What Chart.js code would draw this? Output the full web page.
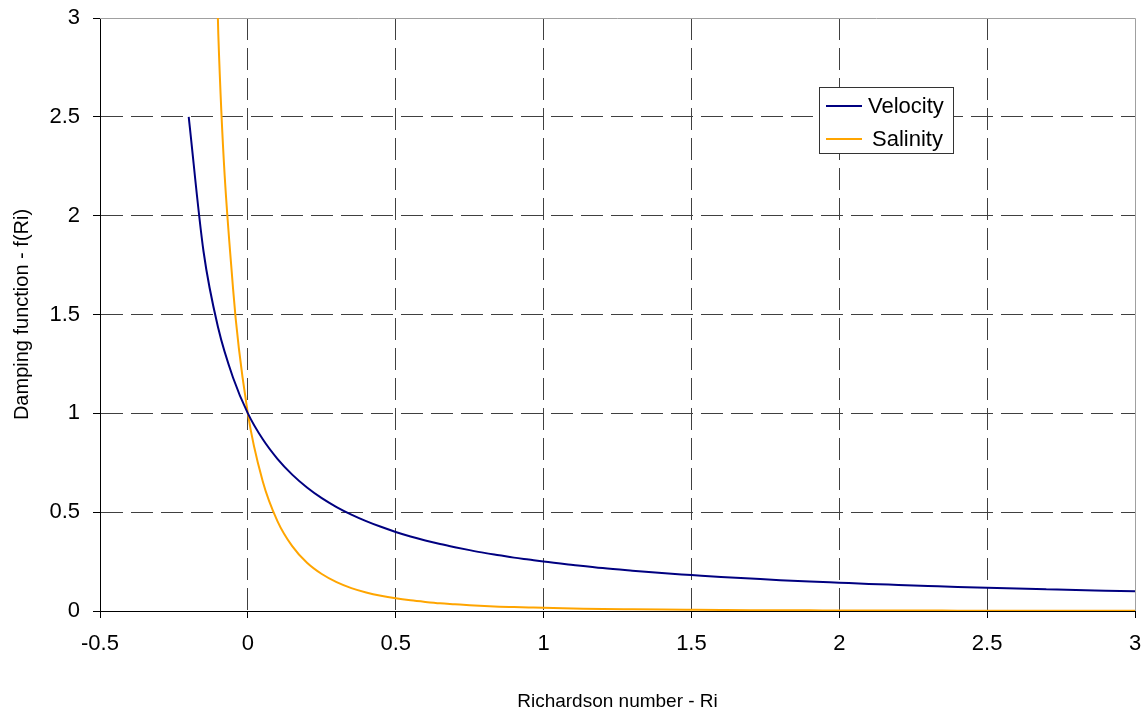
<!DOCTYPE html>
<html>
<head>
<meta charset="utf-8">
<script src="https://cdn.jsdelivr.net/npm/chart.js@4.4.0/dist/chart.umd.min.js"></script>
<style>
  html, body { margin: 0; padding: 0; background: #fff; }
  #wrap { width: 1148px; height: 715px; }
</style>
</head>
<body>
<div id="wrap"><canvas id="dampingChart" width="1148" height="715"></canvas></div>
<script>
// ===== Data =====
const riValues = [
  -0.2, -0.15, -0.1, -0.05, 0, 0.05, 0.1, 0.15, 0.2, 0.25, 0.3, 0.35, 0.4, 0.45, 0.5,
  0.55, 0.6, 0.65, 0.7, 0.75, 0.8, 0.85, 0.9, 0.95, 1.0,
  1.1, 1.2, 1.3, 1.4, 1.5, 1.6, 1.7, 1.8, 1.9, 2.0,
  2.1, 2.2, 2.3, 2.4, 2.5, 2.6, 2.7, 2.8, 2.9, 3.0
];
const velocityValues = [
  2.5, 1.82, 1.43, 1.18, 1.0, 0.87, 0.77, 0.69, 0.625, 0.571, 0.526, 0.488, 0.455, 0.426, 0.4,
  0.377, 0.357, 0.339, 0.323, 0.308, 0.294, 0.282, 0.27, 0.26, 0.25,
  0.233, 0.217, 0.204, 0.192, 0.182, 0.172, 0.164, 0.156, 0.149, 0.143,
  0.137, 0.132, 0.127, 0.122, 0.118, 0.114, 0.11, 0.106, 0.103, 0.1
];
const salinityValues = [
  null, 6.0, 2.92, 1.63, 1.0, 0.658, 0.455, 0.328, 0.244, 0.187, 0.146, 0.116, 0.094, 0.077, 0.064,
  0.054, 0.046, 0.039, 0.034, 0.029, 0.025, 0.022, 0.02, 0.018, 0.016,
  0.013, 0.01, 0.0085, 0.0071, 0.006, 0.0051, 0.0044, 0.0038, 0.0033, 0.0029,
  0.0026, 0.0023, 0.002, 0.0018, 0.0016, 0.0015, 0.0013, 0.0012, 0.0011, 0.001
];
const seriesNames = ['Velocity', 'Salinity'];
const seriesColors = ['#000080', '#ffa500'];

const FONT = "'Liberation Sans', Arial, sans-serif";

const toPoints = (ys) => riValues.map((x, i) => ({ x: x, y: ys[i] }));

// gray frame on top/right of the plot area
const framePlugin = {
  id: 'frame',
  beforeDatasetsDraw(chart) {
    const { ctx, chartArea: a } = chart;
    ctx.save();
    ctx.strokeStyle = '#a0a0a0';
    ctx.lineWidth = 1;
    ctx.beginPath();
    ctx.moveTo(a.left, a.top + 0.5);
    ctx.lineTo(a.right + 0.5, a.top + 0.5);
    ctx.lineTo(a.right + 0.5, a.bottom);
    ctx.stroke();
    ctx.restore();
  }
};

// boxed legend inside the plot, like the original
const boxLegend = {
  id: 'boxLegend',
  afterDatasetsDraw(chart) {
    const { ctx } = chart;
    const x = 819.5, y = 87.5, w = 134, h = 66;
    ctx.save();
    ctx.fillStyle = '#fff';
    ctx.strokeStyle = '#333';
    ctx.lineWidth = 1;
    ctx.fillRect(x, y, w, h);
    ctx.strokeRect(x, y, w, h);
    ctx.font = '22px ' + FONT;
    ctx.textBaseline = 'middle';
    chart.data.datasets.forEach((ds, i) => {
      const ly = 106 + i * 33;
      ctx.strokeStyle = ds.borderColor;
      ctx.lineWidth = 2;
      ctx.beginPath();
      ctx.moveTo(826, ly);
      ctx.lineTo(862, ly);
      ctx.stroke();
      ctx.fillStyle = '#000';
      ctx.fillText(ds.label, i === 0 ? 868 : 872, ly + 1);
    });
    ctx.restore();
  }
};

const edgeAware = (min, max) => (ctx) => {
  const v = ctx.tick ? ctx.tick.value : null;
  if (v === min || v === max) return 'rgba(0,0,0,0)';
  return '#404040';
};

const plainLabel = (value) => String(value);

// keep the plot area fixed: no extra room for overhanging tick labels
const noOverhang = (size) => (s) => {
  if (s.isHorizontal()) s.height = size; else s.width = size;
  s.paddingTop = 0; s.paddingBottom = 0; s.paddingLeft = 0; s.paddingRight = 0;
};

new Chart(document.getElementById('dampingChart'), {
  type: 'line',
  data: {
    datasets: [
      {
        label: seriesNames[0],
        data: toPoints(velocityValues),
        borderColor: seriesColors[0],
        borderWidth: 2,
        pointRadius: 0,
        cubicInterpolationMode: 'monotone',
        fill: false
      },
      {
        label: seriesNames[1],
        data: toPoints(salinityValues),
        borderColor: seriesColors[1],
        borderWidth: 2,
        pointRadius: 0,
        cubicInterpolationMode: 'monotone',
        fill: false
      }
    ]
  },
  options: {
    responsive: false,
    animation: false,
    layout: { padding: { left: 0, right: 13, top: 18, bottom: 0 } },
    plugins: { legend: { display: false }, tooltip: { enabled: false } },
    scales: {
      x: {
        type: 'linear',
        min: -0.5,
        max: 3,
        afterFit: noOverhang(104),
        ticks: { stepSize: 0.5, color: '#000', padding: 13, callback: plainLabel, font: { family: FONT, size: 22 } },
        grid: { color: edgeAware(-0.5, 3), tickColor: '#000', tickLength: 7, lineWidth: 1 },
        border: { display: true, color: '#000', width: 1, dash: [22, 8] },
        title: {
          display: true,
          text: 'Richardson number - Ri',
          color: '#000',
          font: { family: FONT, size: 19 },
          padding: { top: 0, bottom: 2 }
        }
      },
      y: {
        min: 0,
        max: 3,
        afterFit: noOverhang(100),
        ticks: { stepSize: 0.5, color: '#000', padding: 13, callback: plainLabel, font: { family: FONT, size: 22 } },
        grid: { color: edgeAware(0, 3), tickColor: '#000', tickLength: 7, lineWidth: 1 },
        border: { display: true, color: '#000', width: 1, dash: [22, 8] },
        title: {
          display: true,
          text: 'Damping function - f(Ri)',
          color: '#000',
          font: { family: FONT, size: 20 },
          padding: { top: 10, bottom: 0 }
        }
      }
    }
  },
  plugins: [framePlugin, boxLegend]
});
</script>
</body>
</html>
